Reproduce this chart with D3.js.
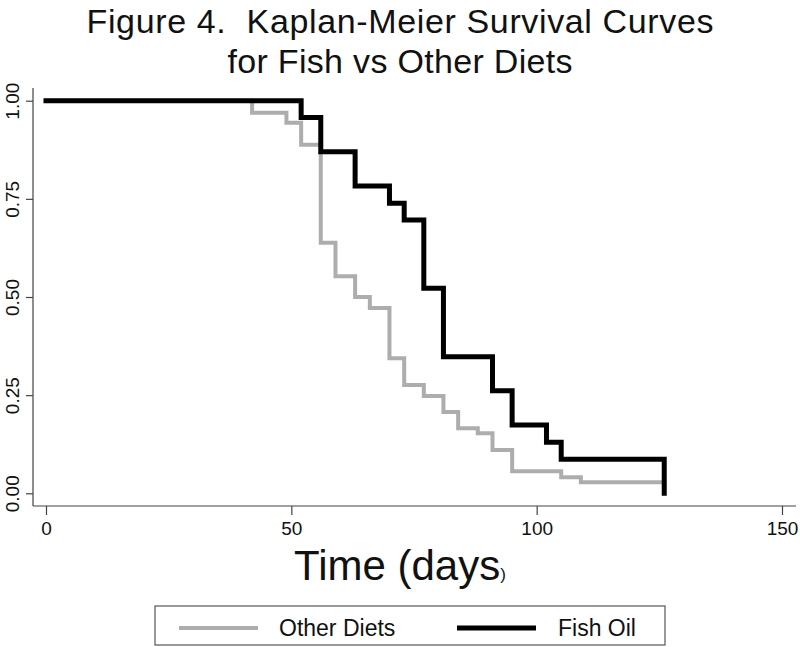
<!DOCTYPE html>
<html><head><meta charset="utf-8">
<script src="https://cdn.jsdelivr.net/npm/d3@7"></script>
<style>body{margin:0;background:#fff}svg{display:block}text{font-family:"Liberation Sans",Arial,sans-serif}</style>
</head><body><svg id="c" width="800" height="647"></svg>
<script>
// Data (step functions: time of event, survival after event)
const fishTimes = [0, 52, 56, 63, 70, 73, 77, 81, 91, 95, 102, 105, 126];
const fishSurv  = [1.0, 0.957, 0.870, 0.783, 0.739, 0.696, 0.522, 0.348, 0.261, 0.174, 0.130, 0.087, 0.0];
const otherTimes = [0, 42, 49, 52, 56, 59, 63, 66, 70, 73, 77, 81, 84, 88, 91, 95, 105, 109, 126];
const otherSurv  = [1.0, 0.969, 0.944, 0.888, 0.638, 0.553, 0.500, 0.472, 0.344, 0.276, 0.248, 0.207, 0.166, 0.153, 0.110, 0.056, 0.041, 0.028, 0.028];
const xTicks = [0, 50, 100, 150];
const yTicks = [0, 0.25, 0.5, 0.75, 1];
const seriesNames = ["Other Diets", "Fish Oil"];
const titleLines = ["Figure 4.\u00a0 Kaplan-Meier Survival Curves", "for Fish vs Other Diets"];

const svg = d3.select("#c");
const x = d3.scaleLinear().domain([0,150]).range([46,782]);
const y = d3.scaleLinear().domain([0,1]).range([493.3,100.7]);

// title
const tw = [627, 345];
svg.selectAll("text.title").data(titleLines).enter().append("text")
  .attr("x",400).attr("y",(d,i)=>33+i*40).attr("text-anchor","middle")
  .attr("font-size",34).attr("fill","#111")
  .attr("textLength",(d,i)=>tw[i]).attr("lengthAdjust","spacing").text(d=>d);

// axes
const axColor = "#444";
svg.append("line").attr("x1",33).attr("x2",33).attr("y1",88).attr("y2",506).attr("stroke",axColor).attr("stroke-width",1.2);
svg.append("line").attr("x1",33).attr("x2",796).attr("y1",506).attr("y2",506).attr("stroke",axColor).attr("stroke-width",1.2);
const xa = svg.append("g").attr("transform","translate(0,506)")
  .call(d3.axisBottom(x).tickValues(xTicks).tickFormat(d3.format("d")).tickSize(9).tickPadding(7));
xa.select(".domain").remove();
xa.selectAll("line").attr("stroke",axColor).attr("stroke-width",1.2);
xa.selectAll("text").attr("font-size",19).attr("fill","#111").attr("font-family","Liberation Sans, Arial, sans-serif");
const ya = svg.append("g").attr("transform","translate(33,0)")
  .call(d3.axisLeft(y).tickValues(yTicks).tickFormat(d3.format(".2f")).tickSize(7).tickPadding(0));
ya.select(".domain").remove();
ya.selectAll("line").attr("stroke",axColor).attr("stroke-width",1.2);
ya.selectAll("text").attr("font-size",19).attr("fill","#111").attr("font-family","Liberation Sans, Arial, sans-serif")
  .attr("text-anchor","middle").attr("x",null)
  .attr("transform","translate(-21,0) rotate(-90)").attr("dy","0.35em");

// x label
const xl = svg.append("text").attr("x",400).attr("y",580).attr("text-anchor","middle").attr("fill","#111");
xl.append("tspan").attr("font-size",42).text("Time (days");
xl.append("tspan").attr("font-size",17).text(")");

// curves
const line = d3.line().x(d=>x(d[0])).y(d=>y(d[1])).curve(d3.curveStepAfter);
const series = [
  {t: otherTimes, s: otherSurv, color:"#adadad", w:4},
  {t: fishTimes, s: fishSurv, color:"#000", w:5}
];
series.forEach(se=>{
  const pts = se.t.map((t,i)=>[t, se.s[i]]);
  svg.append("path").datum(pts).attr("d",line).attr("fill","none")
    .attr("stroke",se.color).attr("stroke-width",se.w).attr("stroke-linejoin","miter").attr("stroke-linecap","square");
});

// legend
svg.append("rect").attr("x",155).attr("y",606).attr("width",510).attr("height",39).attr("fill","#fff").attr("stroke","#555").attr("stroke-width",1.2);
const lg = [{x1:179,x2:258,tx:279},{x1:457,x2:536,tx:558}];
seriesNames.forEach((n,i)=>{
  svg.append("line").attr("x1",lg[i].x1).attr("x2",lg[i].x2).attr("y1",628).attr("y2",628)
    .attr("stroke",series[i].color).attr("stroke-width",series[i].w);
  svg.append("text").attr("x",lg[i].tx).attr("y",636).attr("font-size",23).attr("fill","#111").text(n);
});
</script></body></html>
